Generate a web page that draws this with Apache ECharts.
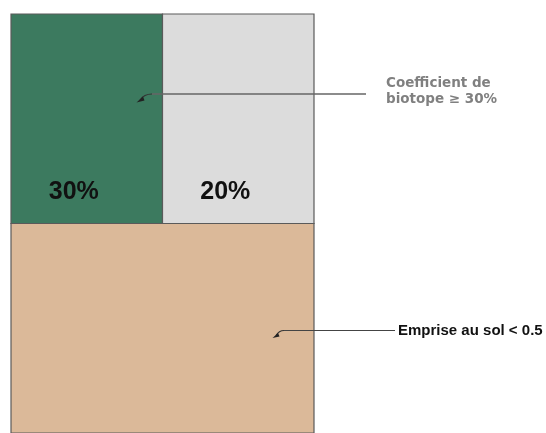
<!DOCTYPE html>
<html>
<head>
<meta charset="utf-8">
<script src="https://cdn.jsdelivr.net/npm/echarts@6/dist/echarts.min.js"></script>
<style>html,body{margin:0;padding:0;background:#fff}#c{width:546px;height:433px}</style>
</head>
<body>
<div id="c"></div>
<script>
// Blocks of the plot schematic (data units: x 0..2, y 0..2)
var blockNames = ['Espace vert', 'Autre', 'Emprise bâtie'];
var blockX0 = [0, 1, 0];
var blockX1 = [1, 2, 2];
var blockY0 = [1, 1, 0];
var blockY1 = [2, 2, 1];
var blockLabels = ['30%', '20%', ''];
var blockColors = ['#3c7a5f', '#dcdcdc', '#dbb999'];
var noteTexts = ['Coefficient de\nbiotope ≥ 30%', 'Emprise au sol < 0.5'];

var data = blockNames.map(function (n, i) {
  return { name: n, value: [blockX0[i], blockX1[i], blockY0[i], blockY1[i]], label: blockLabels[i], color: blockColors[i] };
});

var chart = echarts.init(document.getElementById('c'), null, { renderer: 'canvas' });
chart.setOption({
  animation: false,
  backgroundColor: '#ffffff',
  grid: { left: 11, top: 14, width: 303, height: 424 },
  xAxis: { type: 'value', min: 0, max: 2, show: false },
  yAxis: { type: 'value', min: 0, max: 2, show: false },
  series: [{
    type: 'custom',
    data: data,
    renderItem: function (params, api) {
      var d = data[params.dataIndex];
      var p0 = api.coord([api.value(0), api.value(3)]);
      var p1 = api.coord([api.value(1), api.value(2)]);
      var children = [{
        type: 'rect',
        shape: { x: p0[0], y: p0[1], width: p1[0] - p0[0], height: p1[1] - p0[1] },
        style: { fill: d.color, stroke: '#5a5a5a', lineWidth: 1.2 }
      }];
      if (d.label) {
        children.push({
          type: 'text',
          style: {
            text: d.label, x: (p0[0] + p1[0]) / 2 - 13, y: p1[1] - 31,
            textAlign: 'center', textVerticalAlign: 'middle',
            fill: '#111', font: 'bold 25px "Liberation Sans", Arial, sans-serif'
          }
        });
      }
      return { type: 'group', children: children };
    }
  }],
  graphic: [
    { type: 'polyline', z: 100, shape: { points: [[366, 94], [152, 94]] }, style: { stroke: '#666', lineWidth: 1.5, fill: null } },
    { type: 'bezierCurve', z: 100, shape: { x1: 152, y1: 94, x2: 140, y2: 100, cpx1: 144, cpy1: 94 }, style: { stroke: '#333', lineWidth: 1.2, fill: null } },
    { type: 'polygon', z: 100, shape: { points: [[136.5, 102.5], [143, 96.5], [144.5, 100.5]] }, style: { fill: '#222' } },
    { type: 'text', z: 100, style: { text: noteTexts[0], x: 386, y: 76, fill: '#808080', font: 'bold 13.5px "DejaVu Sans", sans-serif', lineHeight: 15.5 } },

    { type: 'polyline', z: 100, shape: { points: [[395, 330.5], [284, 330.5]] }, style: { stroke: '#444', lineWidth: 1.2, fill: null } },
    { type: 'bezierCurve', z: 100, shape: { x1: 284, y1: 330.5, x2: 276, y2: 335.5, cpx1: 279, cpy1: 330.5 }, style: { stroke: '#333', lineWidth: 1.2, fill: null } },
    { type: 'polygon', z: 100, shape: { points: [[272.5, 338], [278, 333], [279.5, 336.5]] }, style: { fill: '#222' } },
    { type: 'text', z: 100, style: { text: noteTexts[1], x: 398, y: 330.5, textVerticalAlign: 'middle', fill: '#111', font: 'bold 15px "Liberation Sans", Arial, sans-serif' } }
  ]
});
</script>
</body>
</html>
